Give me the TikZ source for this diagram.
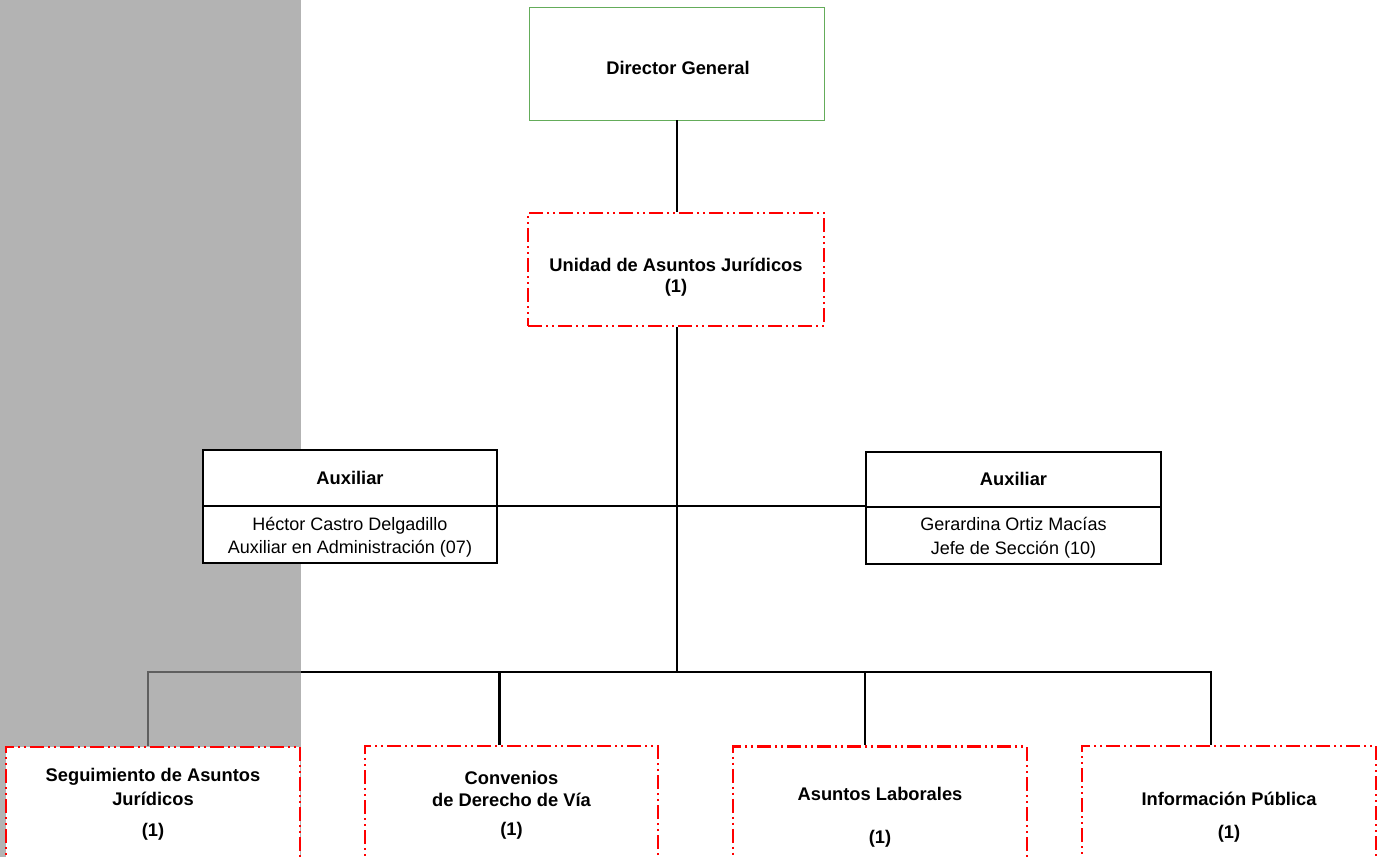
\documentclass[tikz,border=0pt]{standalone}
\usepackage{fontspec}
\setmainfont{Liberation Sans}
\definecolor{panelgray}{RGB}{179,179,179}
\definecolor{dimline}{RGB}{95,95,95}
\definecolor{boxgreen}{RGB}{100,172,90}
\definecolor{boxred}{RGB}{255,0,0}
\begin{document}
\begin{tikzpicture}[x=1pt,y=-1pt,
  conn/.style={draw=black,line width=2.2pt},
  greenbox/.style={draw=boxgreen,line width=0.8pt,fill=white,rectangle,inner sep=0pt},
  redbox/.style={draw=boxred,line width=2.3pt,fill=white,rectangle,inner sep=0pt,
    dash pattern=on 14pt off 4pt on 2pt off 4pt on 2pt off 4pt},
  auxbox/.style={draw=black,line width=2pt,fill=white,rectangle,inner sep=0pt},
  bt/.style={font=\fontsize{18.3}{21}\selectfont\bfseries,anchor=base,inner sep=0pt},
  rt/.style={font=\fontsize{18}{21}\selectfont,anchor=base,inner sep=0pt}]
\useasboundingbox (0,0) rectangle (1385,857);
\clip (0,0) rectangle (1385,857);
% gray side panel
\fill[panelgray] (0,0) rectangle (300.7,857);

% boxes
\node[greenbox,minimum width=295pt,minimum height=113pt] (dg) at (676.5,63.5) {};
\node[redbox,minimum width=296pt,minimum height=113pt] (uaj) at (676,269.5) {};
\node[auxbox,minimum width=294pt,minimum height=113pt] (auxL) at (350,506.5) {};
\node[auxbox,minimum width=295pt,minimum height=112pt] (auxR) at (1013.5,508) {};
\node[redbox,minimum width=294pt,minimum height=140pt] (seg) at (153,817) {};
\node[redbox,minimum width=293pt,minimum height=140pt] (conv) at (511.5,816) {};
\node[redbox,minimum width=294pt,minimum height=140pt] (lab) at (880,816.5) {};
\node[redbox,minimum width=294pt,minimum height=140pt] (inf) at (1229,816) {};

% coordinates
\coordinate (jA) at (677,506);
\coordinate (jB) at (677,672);
\coordinate (gEdge) at (300.7,672);
\coordinate (gCorner) at (148,672);
\coordinate (rCorner) at (1211,672);
\coordinate (cDrop) at (499.5,672);
\coordinate (lDrop) at (865,672);

% connectors
\draw[conn] (dg.south -| jB) -- (uaj.north -| jB);
\draw[conn] (uaj.south -| jB) -- (jB);
\draw[conn] (auxL.east |- jA) -- (jA) -- (auxR.west |- jA);
\draw[conn] (gEdge) -- (rCorner) -- (inf.north -| rCorner);
\draw[conn] (cDrop) -- (conv.north -| cDrop);
\draw[conn] (lDrop) -- (lab.north -| lDrop);
\draw[draw=dimline,line width=1.6pt] (gEdge) -- (gCorner) -- (seg.north -| gCorner);

% dividers
\draw[black,line width=2pt] (auxL.west) ++(0,-0.5) -- ++(294,0);
\draw[black,line width=2pt] (auxR.west) ++(0,-1.3) -- ++(295,0);

% texts
\node[bt] (tdg) at (678,74) {Director General};
\node[bt] (tu1) at (676,271) {Unidad de Asuntos Jurídicos};
\node[bt] (tu2) at (676,292) {(1)};
\node[bt] (tal) at (350,484) {Auxiliar};
\node[rt] (tal1) at (350,530) {Héctor Castro Delgadillo};
\node[rt] (tal2) at (350,553) {Auxiliar en Administración (07)};
\node[bt] (tar) at (1013.5,485) {Auxiliar};
\node[rt] (tar1) at (1013.5,530) {Gerardina Ortiz Macías};
\node[rt] (tar2) at (1013.5,554) {Jefe de Sección (10)};
\node[bt] (ts1) at (153,781) {Seguimiento de Asuntos};
\node[bt] (ts2) at (153,805) {Jurídicos};
\node[bt] (ts3) at (153,836) {(1)};
\node[bt] (tc1) at (511.5,784) {Convenios};
\node[bt] (tc2) at (511.5,806) {de Derecho de Vía};
\node[bt] (tc3) at (511.5,835) {(1)};
\node[bt] (tl1) at (880,800) {Asuntos Laborales};
\node[bt] (tl2) at (880,843) {(1)};
\node[bt] (ti1) at (1229,805) {Información Pública};
\node[bt] (ti2) at (1229,838) {(1)};
\end{tikzpicture}
\end{document}
